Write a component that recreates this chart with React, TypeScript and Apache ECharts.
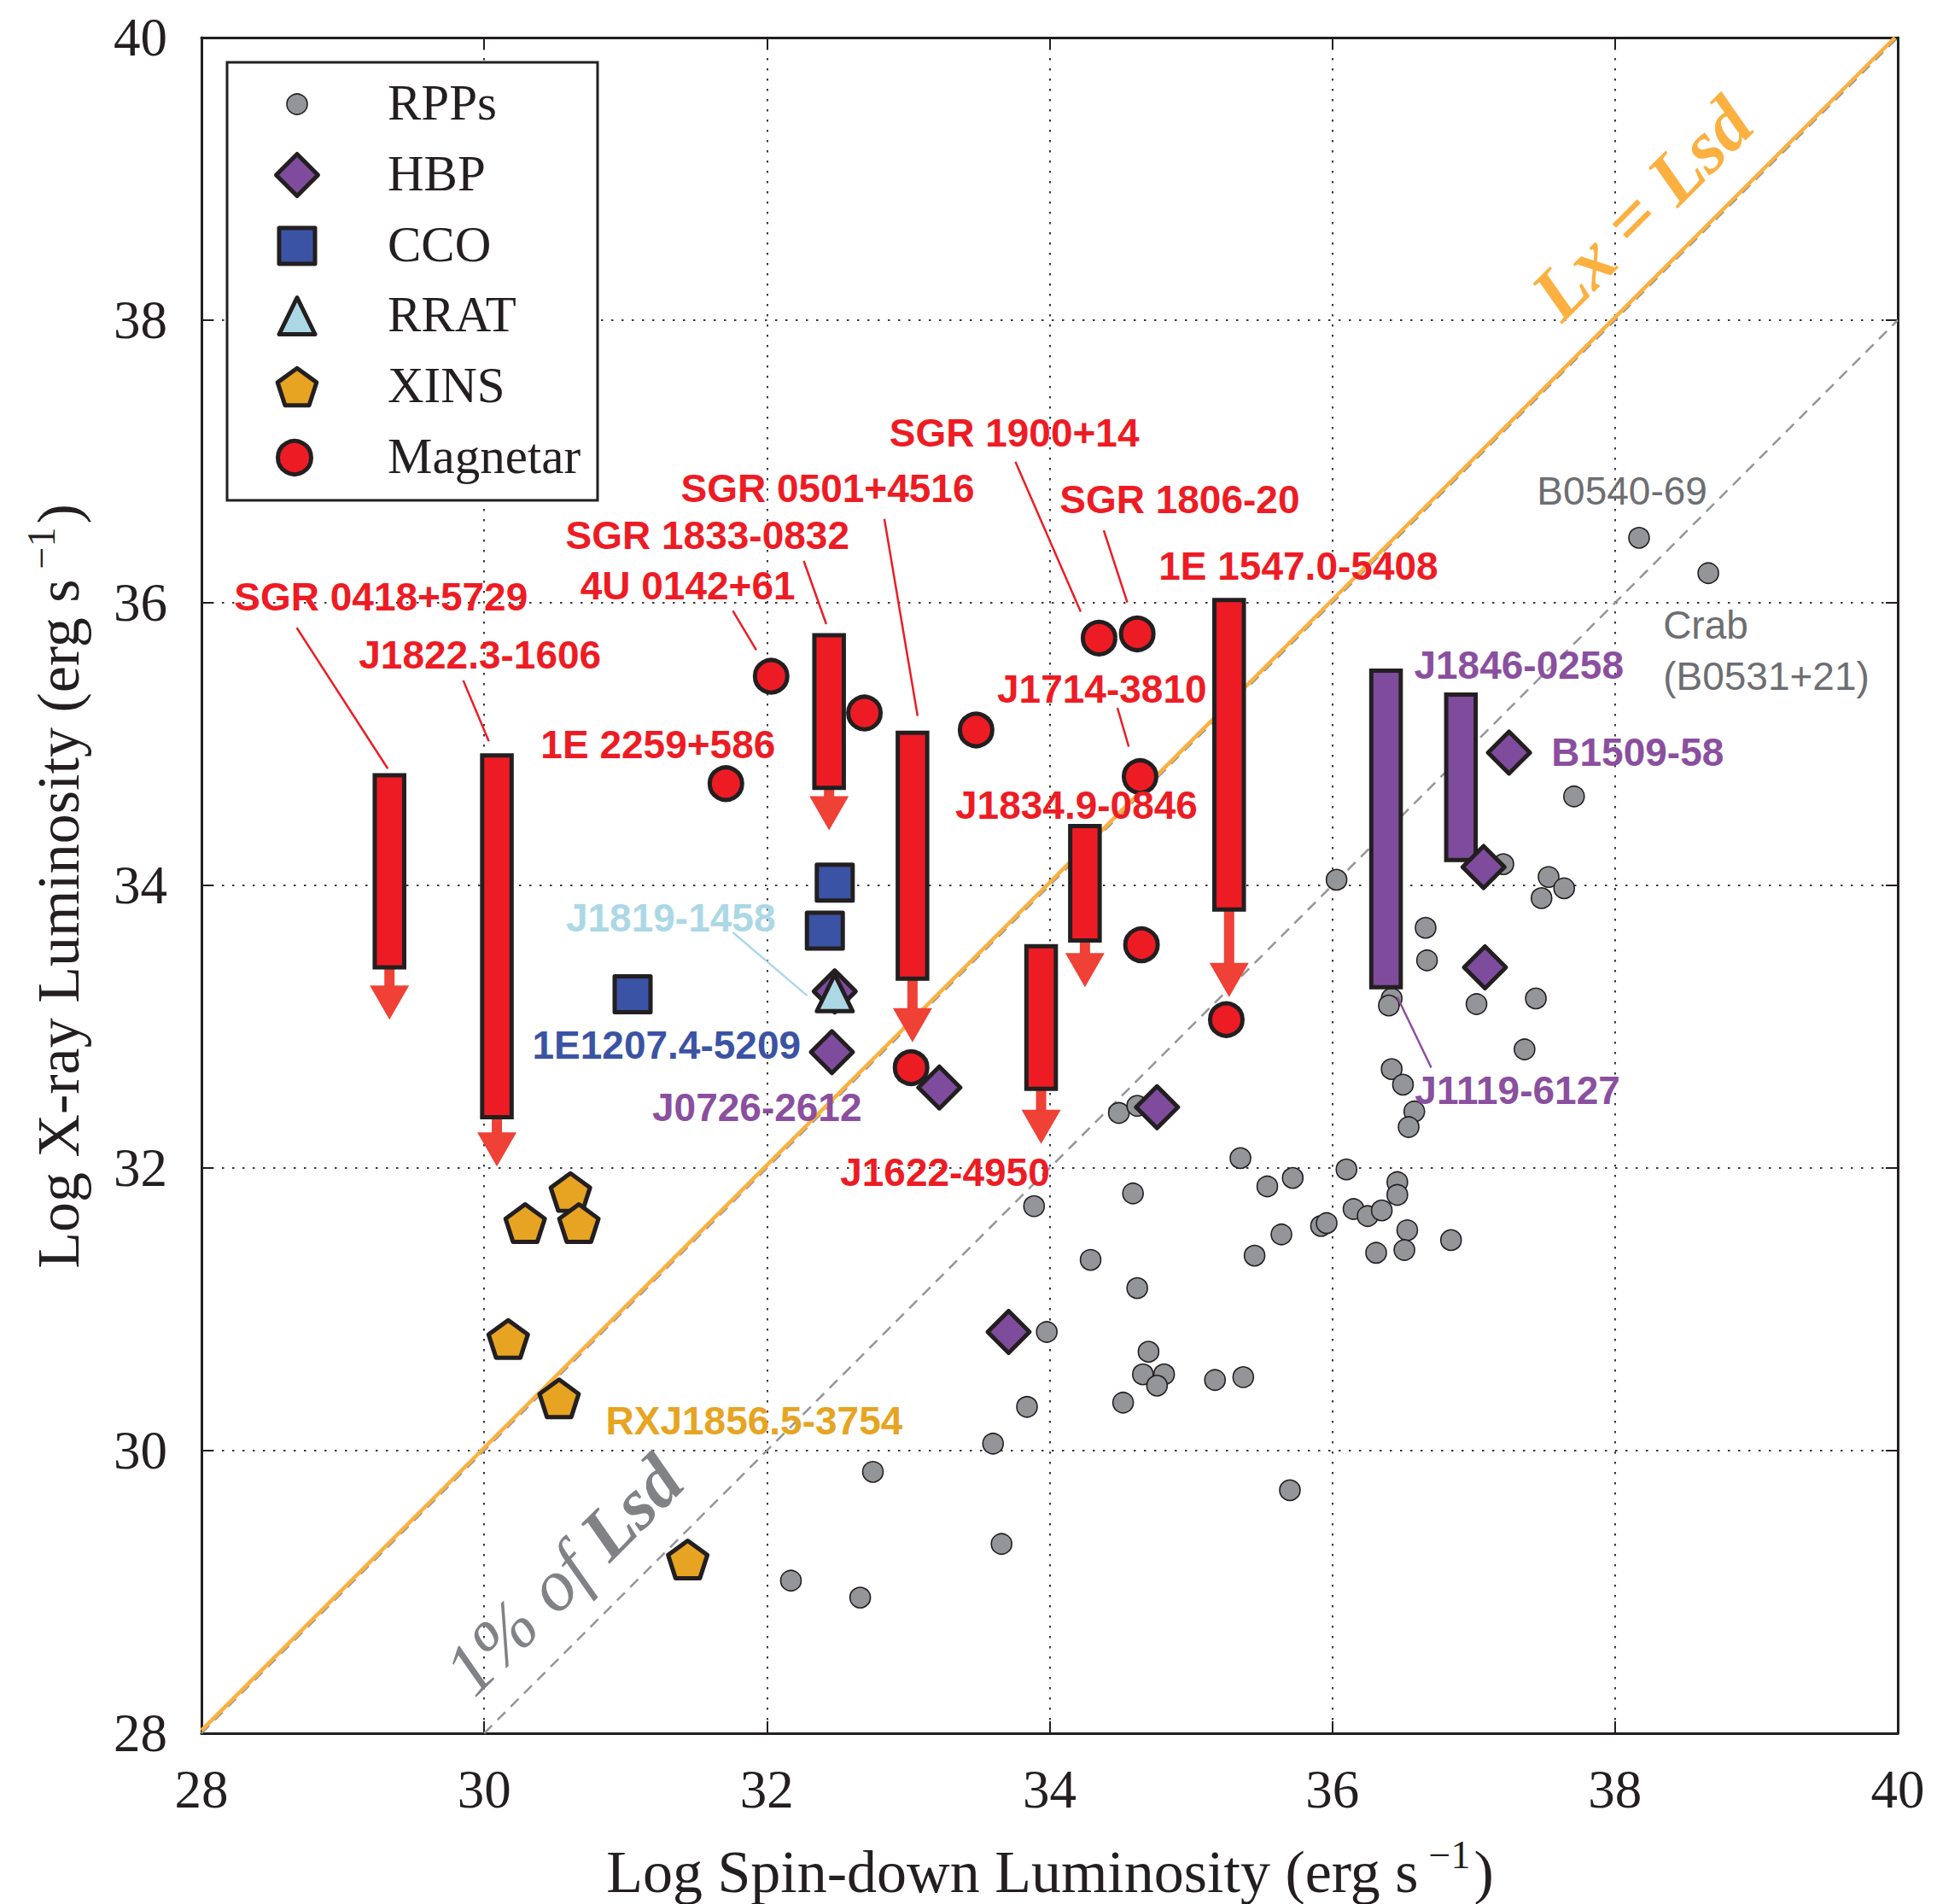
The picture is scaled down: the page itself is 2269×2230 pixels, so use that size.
import React, { useEffect, useRef } from "react";
import * as echarts from "echarts";

// ---------- axes ----------
const AXIS_MIN = 28;
const AXIS_MAX = 40;
const AXIS_STEP = 2;

// ---------- data (log Lsd, log Lx) ----------
const RPP: number[][] = [
  [38.17, 36.46], [38.66, 36.21], [37.71, 34.63], [37.21, 34.15], [37.53, 34.06],
  [37.64, 33.98], [37.48, 33.91], [36.03, 34.04], [36.66, 33.70], [36.67, 33.47],
  [36.42, 33.20], [36.40, 33.15], [37.02, 33.16], [37.44, 33.20], [37.36, 32.84],
  [36.42, 32.70], [36.50, 32.59], [36.58, 32.40], [36.54, 32.29], [34.49, 32.39],
  [34.62, 32.44], [35.35, 32.07], [35.54, 31.87], [35.72, 31.93], [36.10, 31.99],
  [36.46, 31.90], [36.46, 31.81], [36.15, 31.71], [36.25, 31.66], [36.35, 31.70],
  [35.92, 31.59], [35.96, 31.61], [36.53, 31.56], [36.84, 31.49], [36.31, 31.40],
  [36.51, 31.42], [35.64, 31.53], [35.45, 31.38], [34.59, 31.82], [33.89, 31.73],
  [34.29, 31.35], [34.62, 31.15], [33.98, 30.84], [34.70, 30.70], [34.66, 30.54],
  [34.81, 30.54], [34.76, 30.46], [35.17, 30.50], [35.37, 30.52], [34.52, 30.34],
  [33.84, 30.31], [33.60, 30.05], [35.70, 29.72], [33.66, 29.34], [32.75, 29.85],
  [32.17, 29.08], [32.66, 28.96],
];
const HBP: number[][] = [
  [37.25, 34.94], [37.07, 34.13], [37.08, 33.42], [34.76, 32.43], [33.22, 32.57],
  [32.46, 32.82], [32.48, 33.25], [33.71, 30.84],
];
const CCO: number[][] = [[32.48, 34.02], [32.41, 33.68], [31.05, 33.23]];
const RRAT: number[][] = [[32.48, 33.24]];
const XINS: number[][] = [
  [30.61, 31.83], [30.29, 31.61], [30.67, 31.61], [30.17, 30.79], [30.53, 30.37], [31.44, 29.23],
];
const MAGNETAR: number[][] = [
  [32.03, 35.48], [31.71, 34.72], [32.69, 35.22], [33.48, 35.10], [34.35, 35.75],
  [34.62, 35.78], [34.64, 34.77], [34.65, 33.58], [35.25, 33.05], [33.02, 32.71],
];
// [x, low, high, upper-limit arrow tip]
const MAGNETAR_BARS: number[][] = [
  [29.33, 33.42, 34.78, 33.05],
  [30.09, 32.36, 34.92, 32.01],
  [32.44, 34.69, 35.77, 34.39],
  [33.03, 33.34, 35.08, 32.89],
  [33.94, 32.56, 33.57, 32.17],
  [34.25, 33.61, 34.42, 33.28],
  [35.27, 33.83, 36.02, 33.21],
];
// [x, low, high]
const HBP_BARS: number[][] = [
  [36.38, 33.28, 35.52],
  [36.91, 34.18, 35.35],
];
const LX_EQ_LSD: number[][] = [[28, 28.02], [39.98, 40]];
const LX_EQ_LSD_DASH: number[][] = [[28, 28], [40, 40]];
const ONE_PCT: number[][] = [[30, 28], [40, 38]];

// ---------- colours ----------
const INK = "#231f20";
const RED = "#ed1c24";
const ARROW = "#ef4136";
const PURPLE = "#7f4c9d";
const PURPLE_TXT = "#8a4f9e";
const BLUE = "#3b53a4";
const LIGHTBLUE = "#acd8e6";
const GOLD = "#e6a422";
const GRAY = "#939598";
const GRAY_TXT = "#6d6e71";
const ORANGE = "#fbb040";

// ---------- annotations ----------
// [text, x, y, colour, weight, align]
const LABELS: [string, number, number, string, string, string][] = [
  ["SGR 0418+5729", 29.27, 36.04, RED, "bold", "center"],
  ["J1822.3-1606", 29.97, 35.63, RED, "bold", "center"],
  ["4U 0142+61", 31.44, 36.12, RED, "bold", "center"],
  ["SGR 1833-0832", 31.58, 36.48, RED, "bold", "center"],
  ["SGR 0501+4516", 32.43, 36.81, RED, "bold", "center"],
  ["SGR 1900+14", 33.75, 37.20, RED, "bold", "center"],
  ["SGR 1806-20", 34.92, 36.73, RED, "bold", "center"],
  ["1E 1547.0-5408", 35.76, 36.26, RED, "bold", "center"],
  ["1E 2259+586", 31.23, 35.0, RED, "bold", "center"],
  ["J1714-3810", 34.37, 35.39, RED, "bold", "center"],
  ["J1834.9-0846", 34.19, 34.57, RED, "bold", "center"],
  ["J1622-4950", 33.26, 31.97, RED, "bold", "center"],
  ["J1819-1458", 31.32, 33.77, LIGHTBLUE, "bold", "center"],
  ["1E1207.4-5209", 31.29, 32.87, BLUE, "bold", "center"],
  ["J0726-2612", 31.93, 32.43, PURPLE_TXT, "bold", "center"],
  ["RXJ1856.5-3754", 31.91, 30.21, GOLD, "bold", "center"],
  ["J1846-0258", 37.32, 35.56, PURPLE_TXT, "bold", "center"],
  ["B1509-58", 38.16, 34.94, PURPLE_TXT, "bold", "center"],
  ["J1119-6127", 37.31, 32.55, PURPLE_TXT, "bold", "center"],
  ["B0540-69", 38.05, 36.79, GRAY_TXT, "normal", "center"],
  ["Crab", 38.34, 35.84, GRAY_TXT, "normal", "left"],
  ["(B0531+21)", 38.34, 35.48, GRAY_TXT, "normal", "left"],
];
// [x1, y1, x2, y2, colour]
const LEADERS: [number, number, number, number, string][] = [
  [28.674, 35.823, 29.318, 34.826, RED],
  [29.852, 35.451, 30.033, 35.02, RED],
  [31.759, 35.944, 31.925, 35.666, RED],
  [32.261, 36.296, 32.42, 35.849, RED],
  [32.831, 36.594, 33.066, 35.199, RED],
  [33.758, 36.999, 34.22, 35.936, RED],
  [34.383, 36.513, 34.55, 36.002, RED],
  [34.48, 35.256, 34.56, 34.982, RED],
  [31.759, 33.668, 32.285, 33.22, LIGHTBLUE],
  [36.46, 33.21, 36.7, 32.71, PURPLE_TXT],
];
// [x, y] centres of the rotated line captions
const LINE_CAPTIONS: number[][] = [[38.19, 38.79], [30.56, 29.12]];

const LEGEND_NAMES = ["RPPs", "HBP", "CCO", "RRAT", "XINS", "Magnetar"];

const SERIF = '"Liberation Serif", "Times New Roman", Times, serif';
const SANS = '"Liberation Sans", Arial, Helvetica, sans-serif';
const PENTAGON = "path://M0,-100 L95.1,-30.9 L58.8,80.9 L-58.8,80.9 L-95.1,-30.9 Z";

function textWidth(t: string, font: string): number {
  const ctx = document.createElement("canvas").getContext("2d");
  if (!ctx) return t.length * 30;
  ctx.font = font;
  return ctx.measureText(t).width;
}

function txt(x: number, y: number, text: string, o: any) {
  return {
    type: "text",
    x,
    y,
    rotation: o.rotation || 0,
    z: 60,
    silent: true,
    style: {
      text,
      fill: o.fill || INK,
      fontSize: o.fontSize,
      fontFamily: o.fontFamily || SERIF,
      fontWeight: o.fontWeight || "normal",
      fontStyle: o.fontStyle || "normal",
      align: o.align || "left",
      verticalAlign: "middle",
      textAlign: o.align || "left",
      textVerticalAlign: "middle",
    },
  };
}

function renderBar(fill: string, withArrow: boolean) {
  return (params: any, api: any) => {
    const x = api.value(0);
    const lo = api.value(1);
    const hi = api.value(2);
    const top = api.coord([x, hi]);
    const bot = api.coord([x, lo]);
    const w = 34.5;
    const children: any[] = [];
    if (withArrow) {
      const tip = api.coord([x, api.value(3)]);
      const headH = 40;
      const headW = 46;
      const shaftW = 12;
      children.push({
        type: "rect",
        shape: { x: bot[0] - shaftW / 2, y: bot[1], width: shaftW, height: tip[1] - headH - bot[1] + 1 },
        style: { fill: ARROW },
      });
      children.push({
        type: "polygon",
        shape: {
          points: [
            [tip[0] - headW / 2, tip[1] - headH],
            [tip[0] + headW / 2, tip[1] - headH],
            [tip[0], tip[1]],
          ],
        },
        style: { fill: ARROW },
      });
    }
    children.push({
      type: "rect",
      shape: { x: top[0] - w / 2, y: top[1], width: w, height: bot[1] - top[1] },
      style: { fill, stroke: INK, lineWidth: 5 },
    });
    return { type: "group", children };
  };
}

function buildLegend(): any[] {
  const els: any[] = [];
  const bx = 266, by = 73, bw = 434, bh = 513;
  els.push({
    type: "rect",
    z: 50,
    silent: true,
    shape: { x: bx, y: by, width: bw, height: bh },
    style: { fill: "#ffffff", stroke: INK, lineWidth: 3 },
  });
  const rows = [122, 205, 288, 370, 453, 536];
  const sx = 348;
  const tx = 454;
  const sty = (fill: string, lw = 5) => ({ fill, stroke: INK, lineWidth: lw, lineJoin: "round" });
  // RPPs
  els.push({ type: "circle", z: 55, silent: true, shape: { cx: sx, cy: rows[0], r: 12 }, style: sty(GRAY, 1.6) });
  // HBP diamond
  const d = 24.5;
  els.push({
    type: "polygon", z: 55, silent: true,
    shape: { points: [[sx, rows[1] - d], [sx + d, rows[1]], [sx, rows[1] + d], [sx - d, rows[1]]] },
    style: sty(PURPLE),
  });
  // CCO square
  els.push({ type: "rect", z: 55, silent: true, shape: { x: sx - 21, y: rows[2] - 21, width: 42, height: 42 }, style: sty(BLUE) });
  // RRAT triangle
  els.push({
    type: "polygon", z: 55, silent: true,
    shape: { points: [[sx, rows[3] - 21.5], [sx + 21, rows[3] + 21.5], [sx - 21, rows[3] + 21.5]] },
    style: sty(LIGHTBLUE),
  });
  // XINS pentagon
  const r = 24;
  const cy = rows[4] + 0.0955 * r;
  const pts: number[][] = [];
  for (let i = 0; i < 5; i++) {
    const a = -Math.PI / 2 + (i * 2 * Math.PI) / 5;
    pts.push([sx + r * Math.cos(a), cy + r * Math.sin(a)]);
  }
  els.push({ type: "polygon", z: 55, silent: true, shape: { points: pts }, style: sty(GOLD) });
  // Magnetar
  els.push({ type: "circle", z: 55, silent: true, shape: { cx: sx - 3, cy: rows[5], r: 19.5 }, style: sty(RED) });
  LEGEND_NAMES.forEach((n, i) => {
    els.push(txt(tx, rows[i] - 2, n, { fontSize: 59, fontFamily: SERIF }));
  });
  return els;
}

function buildTitles(): any[] {
  const els: any[] = [];
  const mainSize = 70;
  const supSize = 46;
  const fMain = `${mainSize}px ${SERIF}`;
  const fSup = `${supSize}px ${SERIF}`;
  const gap = 12;
  const gap2 = 4;
  // x title
  {
    const main = "Log Spin-down Luminosity (erg s";
    const w1 = textWidth(main, fMain);
    const w2 = textWidth("\u22121", fSup);
    const w3 = textWidth(")", fMain);
    const total = w1 + gap + w2 + gap2 + w3;
    const x0 = 1230 - total / 2;
    const yMain = 2192;
    const ySup = 2172;
    els.push(txt(x0, yMain, main, { fontSize: mainSize }));
    els.push(txt(x0 + w1 + gap, ySup, "\u22121", { fontSize: supSize }));
    els.push(txt(x0 + w1 + gap + w2 + gap2, yMain, ")", { fontSize: mainSize }));
  }
  // y title
  {
    const main = "Log X-ray Luminosity (erg s";
    const w1 = textWidth(main, fMain);
    const w2 = textWidth("\u22121", fSup);
    const total = w1 + gap + w2 + gap2 + textWidth(")", fMain);
    const y0 = 1038 + total / 2;
    const xMain = 68;
    const xSup = 48;
    const rot = Math.PI / 2;
    els.push(txt(xMain, y0, main, { fontSize: mainSize, rotation: rot }));
    els.push(txt(xSup, y0 - w1 - gap, "\u22121", { fontSize: supSize, rotation: rot }));
    els.push(txt(xMain, y0 - w1 - gap - w2 - gap2, ")", { fontSize: mainSize, rotation: rot }));
  }
  return els;
}

function axisCommon(showLabel: boolean) {
  return {
    type: "value",
    min: AXIS_MIN,
    max: AXIS_MAX,
    interval: AXIS_STEP,
    axisLine: { show: true, onZero: false, lineStyle: { color: INK, width: 3 } },
    axisTick: { show: true, inside: true, length: 14, lineStyle: { color: INK, width: 2 } },
    axisLabel: {
      show: showLabel,
      color: INK,
      fontFamily: SERIF,
      fontSize: 63,
      showMinLabel: true,
      showMaxLabel: true,
    },
    splitLine: {
      show: showLabel,
      lineStyle: { color: "#3a3a3c", width: 2, type: [2.5, 9.5] },
    },
  };
}

export default function App() {
  const ref = useRef<HTMLDivElement>(null);

  useEffect(() => {
    if (!ref.current) return;
    const chart = echarts.init(ref.current, null, { renderer: "svg" });

    const markerStyle = (color: string) => ({
      color,
      borderColor: INK,
      borderWidth: 5,
      borderJoin: "round",
      opacity: 1,
    });

    const option: any = {
      animation: false,
      backgroundColor: "#ffffff",
      grid: { left: 236, top: 44, width: 1987, height: 1986, containLabel: false },
      xAxis: [
        { ...axisCommon(true), position: "bottom", axisLabel: { ...axisCommon(true).axisLabel, margin: 34 } },
        { ...axisCommon(false), position: "top" },
      ],
      yAxis: [
        { ...axisCommon(true), position: "left", axisLabel: { ...axisCommon(true).axisLabel, margin: 40 } },
        { ...axisCommon(false), position: "right" },
      ],
      series: [
        {
          name: "1% of Lsd",
          type: "line",
          data: ONE_PCT,
          showSymbol: false,
          silent: true,
          z: 1,
          lineStyle: { color: GRAY, width: 2.5, type: [13, 9] },
        },
        {
          name: "Lx=Lsd dashed",
          type: "line",
          data: LX_EQ_LSD_DASH,
          showSymbol: false,
          silent: true,
          z: 1,
          lineStyle: { color: GRAY, width: 2.5, type: [13, 9] },
        },
        {
          name: "Lx=Lsd",
          type: "line",
          data: LX_EQ_LSD,
          showSymbol: false,
          silent: true,
          z: 2,
          lineStyle: { color: ORANGE, width: 4.5 },
        },
        {
          name: "RPPs",
          type: "scatter",
          data: RPP,
          symbol: "circle",
          symbolSize: 24,
          silent: true,
          z: 3,
          itemStyle: { color: GRAY, borderColor: INK, borderWidth: 1.6, opacity: 1 },
        },
        {
          name: "HBP bars",
          type: "custom",
          data: HBP_BARS,
          renderItem: renderBar(PURPLE, false),
          silent: true,
          z: 4,
        },
        {
          name: "Magnetar bars",
          type: "custom",
          data: MAGNETAR_BARS,
          renderItem: renderBar(RED, true),
          silent: true,
          z: 4,
        },
        {
          name: "HBP",
          type: "scatter",
          data: HBP,
          symbol: "diamond",
          symbolSize: 49,
          silent: true,
          z: 5,
          itemStyle: markerStyle(PURPLE),
        },
        {
          name: "CCO",
          type: "scatter",
          data: CCO,
          symbol: "rect",
          symbolSize: 42,
          silent: true,
          z: 5,
          itemStyle: markerStyle(BLUE),
        },
        {
          name: "RRAT",
          type: "scatter",
          data: RRAT,
          symbol: "triangle",
          symbolSize: [42, 43],
          silent: true,
          z: 5,
          itemStyle: markerStyle(LIGHTBLUE),
        },
        {
          name: "XINS",
          type: "scatter",
          data: XINS,
          symbol: PENTAGON,
          symbolSize: [46, 44],
          silent: true,
          z: 5,
          itemStyle: markerStyle(GOLD),
        },
        {
          name: "Magnetar",
          type: "scatter",
          data: MAGNETAR,
          symbol: "circle",
          symbolSize: 38,
          silent: true,
          z: 5,
          itemStyle: markerStyle(RED),
        },
        {
          name: "leaders",
          type: "custom",
          data: LEADERS.map((l) => [l[0], l[1], l[2], l[3]]),
          silent: true,
          z: 6,
          renderItem: (params: any, api: any) => {
            const l = LEADERS[params.dataIndex];
            const p1 = api.coord([l[0], l[1]]);
            const p2 = api.coord([l[2], l[3]]);
            return {
              type: "line",
              shape: { x1: p1[0], y1: p1[1], x2: p2[0], y2: p2[1] },
              style: { stroke: l[4], lineWidth: 2.5 },
            };
          },
        },
        {
          name: "labels",
          type: "custom",
          data: LABELS.map((l) => [l[1], l[2]]),
          silent: true,
          z: 7,
          renderItem: (params: any, api: any) => {
            const l = LABELS[params.dataIndex];
            const p = api.coord([l[1], l[2]]);
            return {
              type: "text",
              x: p[0],
              y: p[1],
              style: {
                text: l[0],
                fill: l[3],
                fontSize: 46,
                fontFamily: SANS,
                fontWeight: l[4],
                align: l[5],
                verticalAlign: "middle",
                textAlign: l[5],
                textVerticalAlign: "middle",
              },
            };
          },
        },
        {
          name: "line captions",
          type: "custom",
          data: LINE_CAPTIONS,
          silent: true,
          z: 7,
          renderItem: (params: any, api: any) => {
            const c = LINE_CAPTIONS[params.dataIndex];
            const p = api.coord([c[0], c[1]]);
            if (params.dataIndex === 0) {
              return {
                type: "text",
                x: p[0],
                y: p[1],
                rotation: Math.PI / 4,
                style: {
                  text: "Lx = Lsd",
                  fill: ORANGE,
                  fontSize: 88,
                  fontFamily: SERIF,
                  fontWeight: "bold",
                  fontStyle: "italic",
                  align: "center",
                  verticalAlign: "middle",
                  textAlign: "center",
                  textVerticalAlign: "middle",
                },
              };
            }
            return {
              type: "text",
              x: p[0],
              y: p[1],
              rotation: Math.PI / 4,
              style: {
                text: "{a|1% of }{b|Lsd}",
                fill: "#808285",
                align: "center",
                verticalAlign: "middle",
                textAlign: "center",
                textVerticalAlign: "middle",
                rich: {
                  a: { fontSize: 86, fontFamily: SERIF, fontStyle: "italic", fill: "#808285", color: "#808285" },
                  b: {
                    fontSize: 86,
                    fontFamily: SERIF,
                    fontStyle: "italic",
                    fontWeight: "bold",
                    fill: "#808285",
                    color: "#808285",
                  },
                },
              },
            };
          },
        },
      ],
      graphic: [...buildLegend(), ...buildTitles()],
    };

    chart.setOption(option);
    return () => {
      chart.dispose();
    };
  }, []);

  return (
    <div
      ref={ref}
      style={{ position: "absolute", left: 0, top: 0, width: 2269, height: 2230, background: "#ffffff" }}
    />
  );
}
